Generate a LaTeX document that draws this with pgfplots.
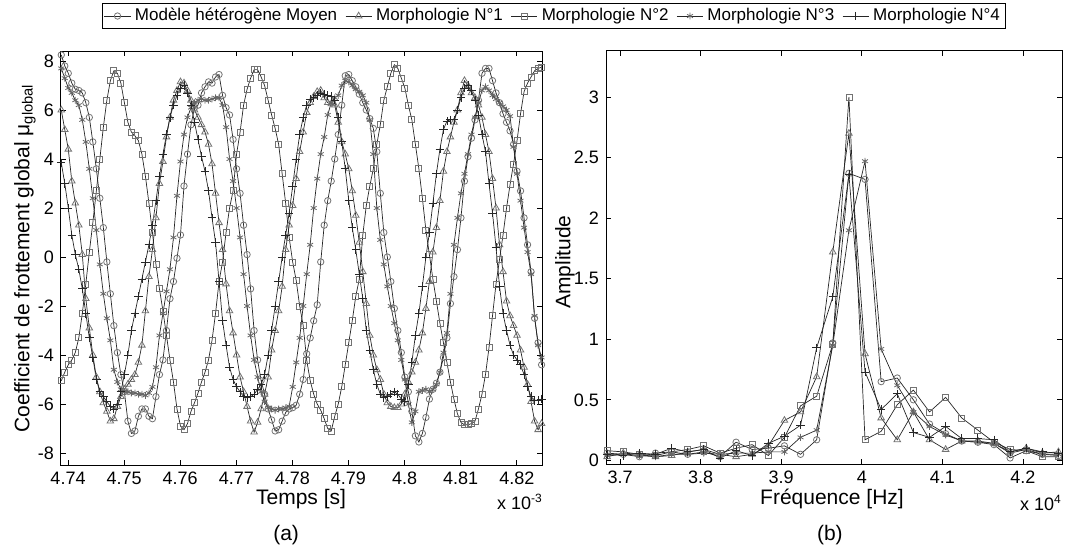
\documentclass[border=0pt]{standalone}
\usepackage{fontspec}
\setmainfont{Liberation Sans}
\usepackage{pgfplots}
\usepackage{pgfplotstable}
\pgfplotsset{compat=1.18}

% signal temporel (temps en 1e-3 s)
\pgfplotstableread{
t moy n1 n2 n3 n4
4.738800 8.25 6.0 -5.05 7.7 3.85
4.739425 7.8 5.2 -4.7 7.3 3.0
4.740050 7.5 4.4 -4.4 6.9 2.0
4.740675 7.1 3.1 -4.2 6.7 0.9
4.741300 6.85 2.2 -3.9 6.4 0.1
4.741925 6.8 1.3 -3.3 6.2 -0.5
4.742550 6.7 0.1 -2.3 5.6 -1.3
4.743175 6.3 -1.7 -1.1 4.7 -2.3
4.743800 5.7 -2.9 0.2 3.6 -3.3
4.744425 4.7 -4.0 1.4 2.4 -4.1
4.745050 3.6 -4.9 2.7 1.1 -5.0
4.745675 2.4 -5.5 4.0 -0.3 -5.5
4.746300 1.2 -5.95 5.3 -1.5 -5.7
4.746925 -0.2 -6.3 6.4 -2.5 -5.9
4.747550 -1.5 -6.7 7.2 -3.4 -6.1
4.748175 -2.8 -6.6 7.6 -4.6 -6.2
4.748800 -3.9 -6.1 7.5 -5.1 -6.0
4.749425 -4.8 -5.7 7.1 -5.4 -5.5
4.750050 -5.5 -5.4 6.3 -5.5 -4.8
4.750675 -6.7 -5.2 5.5 -5.5 -4.0
4.751300 -7.2 -5.0 5.1 -5.55 -3.0
4.751925 -7.1 -4.8 4.95 -5.55 -2.3
4.752550 -6.5 -4.3 4.75 -5.6 -1.6
4.753175 -6.2 -3.6 4.2 -5.6 -0.9
4.753800 -6.2 -2.2 3.3 -5.65 -0.2
4.754425 -6.5 -0.8 2.2 -5.55 0.5
4.755050 -6.6 0.3 1.0 -5.3 1.3
4.755675 -5.7 1.6 -0.3 -4.5 2.3
4.756300 -4.8 3.0 -1.3 -3.2 3.3
4.756925 -4.2 3.9 -2.2 -2.3 4.2
4.757550 -3.0 4.9 -3.2 -1.4 5.0
4.758175 -1.7 5.7 -4.2 -0.5 5.7
4.758800 -1.0 6.4 -5.1 0.8 6.2
4.759425 -0.05 6.8 -6.2 2.5 6.6
4.760050 0.9 7.15 -6.9 3.9 6.9
4.760675 2.9 7.1 -7.05 5.0 7.0
4.761300 4.2 6.8 -6.8 5.7 6.7
4.761925 5.4 6.4 -6.3 6.1 6.2
4.762550 6.1 6.0 -5.95 6.3 5.5
4.763175 6.2 5.7 -5.55 6.4 4.8
4.763800 6.7 5.4 -5.1 6.45 4.1
4.764425 6.95 5.1 -4.7 6.4 3.5
4.765050 7.15 4.6 -4.2 6.4 2.7
4.765675 7.1 3.8 -3.4 6.45 1.6
4.766300 7.35 2.6 -2.3 6.5 0.6
4.766925 7.45 1.4 -1.0 6.5 -1.0
4.767550 6.6 0.3 -0.2 6.2 -2.6
4.768175 6.1 -1.1 1.0 5.3 -3.6
4.768800 5.8 -2.2 2.0 4.0 -4.5
4.769425 4.8 -3.1 2.7 3.1 -5.0
4.770050 3.6 -4.0 4.2 2.0 -5.3
4.770675 2.6 -4.9 5.1 0.8 -5.5
4.771300 1.3 -5.5 6.2 -0.7 -5.7
4.771925 0.1 -6.1 6.85 -2.0 -5.75
4.772550 -1.3 -6.7 7.3 -3.2 -5.7
4.773175 -3.0 -7.15 7.65 -4.2 -5.6
4.773800 -4.2 -6.75 7.65 -4.9 -5.4
4.774425 -5.05 -6.2 7.35 -5.5 -5.2
4.775050 -5.6 -5.6 7.0 -5.9 -4.8
4.775675 -6.2 -4.9 6.4 -6.15 -4.0
4.776300 -6.65 -3.8 5.8 -6.2 -3.0
4.776925 -7.1 -3.0 5.25 -6.25 -2.0
4.777550 -7.05 -2.2 4.6 -6.2 -1.0
4.778175 -6.7 -1.2 3.4 -6.2 0.0
4.778800 -6.35 0.3 2.2 -6.15 0.9
4.779425 -6.2 1.3 0.8 -6.1 1.8
4.780050 -6.15 2.1 -0.2 -5.3 2.9
4.780675 -6.05 3.2 -0.95 -4.3 4.0
4.781300 -5.6 4.3 -2.0 -3.3 5.0
4.781925 -5.0 5.1 -2.8 -2.0 5.7
4.782550 -3.95 5.9 -4.2 -0.7 6.2
4.783175 -3.3 6.3 -5.05 0.5 6.45
4.783800 -2.6 6.55 -5.6 2.0 6.5
4.784425 -1.95 6.75 -6.0 3.2 6.6
4.785050 -0.2 6.8 -6.25 4.2 6.7
4.785675 1.3 6.5 -6.6 4.9 6.65
4.786300 2.3 6.3 -7.0 5.8 6.6
4.786925 3.1 6.25 -7.1 6.3 6.55
4.787550 4.0 6.2 -6.5 6.5 6.4
4.788175 5.0 5.5 -6.0 6.6 5.7
4.788800 6.2 4.7 -5.3 7.0 4.7
4.789425 7.4 4.2 -4.4 7.2 3.6
4.790050 7.45 3.6 -3.5 7.15 2.3
4.790675 7.2 2.7 -2.6 7.0 1.2
4.791300 6.95 1.7 -1.6 6.85 0.3
4.791925 6.65 0.6 -0.9 6.75 -0.7
4.792550 6.3 -0.6 0.9 6.6 -1.7
4.793175 6.0 -1.9 2.1 6.3 -3.0
4.793800 5.65 -3.2 2.9 5.6 -3.8
4.794425 5.25 -4.0 3.6 4.2 -4.6
4.795050 4.3 -4.6 4.6 2.0 -5.2
4.795675 2.6 -5.0 5.4 0.7 -5.6
4.796300 1.0 -5.6 6.4 -0.3 -5.75
4.796925 0.0 -5.95 6.95 -1.2 -5.7
4.797550 -1.0 -6.1 7.5 -2.0 -5.6
4.798175 -2.1 -6.15 7.85 -2.7 -5.5
4.798800 -3.0 -6.15 7.7 -3.4 -5.6
4.799425 -3.9 -6.0 7.3 -4.2 -5.8
4.800050 -4.9 -5.6 6.9 -5.0 -5.9
4.800675 -5.5 -5.1 6.2 -6.0 -5.2
4.801300 -6.3 -4.7 5.6 -6.75 -4.3
4.801925 -7.3 -4.3 4.6 -6.3 -3.2
4.802550 -7.55 -3.8 3.6 -5.5 -2.3
4.803175 -7.2 -3.1 2.4 -5.45 -1.2
4.803800 -6.55 -2.1 1.1 -5.4 0.0
4.804425 -5.8 -1.0 0.1 -5.5 1.0
4.805050 -5.4 0.2 -0.9 -5.4 2.2
4.805675 -5.15 1.2 -1.8 -5.2 3.4
4.806300 -4.7 2.3 -2.7 -4.7 4.4
4.806925 -4.1 3.5 -3.5 -3.9 5.2
4.807550 -3.3 4.3 -4.3 -3.1 5.55
4.808175 -1.9 4.9 -5.1 -1.5 5.6
4.808800 -0.8 5.5 -5.8 0.5 5.6
4.809425 0.3 6.0 -6.4 1.6 6.0
4.810050 1.6 6.7 -6.75 2.6 6.5
4.810675 3.1 7.2 -6.85 3.4 6.9
4.811300 4.1 7.0 -6.85 4.2 7.0
4.811925 4.85 6.7 -6.8 5.0 6.8
4.812550 5.6 6.5 -6.7 5.7 6.4
4.813175 6.4 6.2 -6.2 6.3 5.8
4.813800 7.5 5.7 -5.6 6.8 5.0
4.814425 7.7 5.0 -4.8 6.95 4.3
4.815050 7.7 4.3 -3.7 6.8 3.0
4.815675 7.2 3.2 -2.4 6.6 1.8
4.816300 6.7 2.0 -1.1 6.45 0.4
4.816925 6.3 0.5 -0.1 6.3 -1.2
4.817550 5.85 -0.6 0.9 6.15 -2.3
4.818175 5.5 -1.8 2.0 6.0 -3.0
4.818800 5.15 -2.4 2.95 5.75 -3.6
4.819425 4.6 -2.8 3.8 4.5 -4.0
4.820050 3.5 -3.2 4.75 3.4 -4.2
4.820675 2.7 -3.8 5.85 2.3 -4.4
4.821300 1.6 -4.5 6.75 1.2 -4.8
4.821925 0.5 -5.2 7.1 0.2 -5.3
4.822550 -0.6 -5.9 7.35 -0.7 -5.7
4.823175 -2.5 -6.7 7.6 -2.4 -5.85
4.823800 -3.5 -7.05 7.7 -3.6 -5.85
4.824425 -4.4 -6.8 7.75 -4.1 -5.8
}\tempsdata

% spectre (frequence en 1e4 Hz)
\pgfplotstableread{
f moy n1 n2 n3 n4
3.684 0.06 0.03 0.08 0.04 0.05
3.704 0.05 0.06 0.07 0.05 0.04
3.724 0.03 0.05 0.05 0.04 0.06
3.744 0.06 0.03 0.04 0.03 0.05
3.764 0.07 0.04 0.07 0.05 0.10
3.784 0.05 0.07 0.09 0.05 0.07
3.804 0.07 0.09 0.12 0.06 0.09
3.824 0.03 0.05 0.06 0.05 0.02
3.844 0.15 0.03 0.10 0.06 0.08
3.864 0.09 0.05 0.13 0.06 0.04
3.884 0.10 0.12 0.04 0.07 0.14
3.904 0.12 0.33 0.19 0.07 0.20
3.924 0.05 0.40 0.45 0.19 0.29
3.944 0.17 0.69 0.53 0.25 0.93
3.964 0.97 1.72 0.96 0.95 1.35
3.984 2.37 2.70 3.00 1.90 2.36
4.004 2.32 0.88 0.17 2.47 0.73
4.024 0.65 0.35 0.24 0.92 0.42
4.044 0.68 0.17 0.46 0.62 0.55
4.064 0.50 0.40 0.58 0.40 0.23
4.084 0.30 0.17 0.40 0.28 0.19
4.104 0.22 0.09 0.52 0.21 0.28
4.124 0.16 0.16 0.35 0.16 0.18
4.144 0.15 0.16 0.25 0.15 0.18
4.164 0.13 0.14 0.15 0.14 0.17
4.184 0.02 0.07 0.09 0.06 0.07
4.204 0.08 0.10 0.08 0.09 0.10
4.224 0.05 0.06 0.03 0.05 0.07
4.244 0.04 0.07 0.03 0.05 0.06
}\freqdata

\pgfplotsset{
  every axis/.append style={
    scale only axis,
    axis line style={line width=0.5pt},
    tick style={black, line width=0.4pt},
    major tick length=2.5pt,
    tick align=inside,
    xtick pos=both, ytick pos=both,
    scaled ticks=false,
    ticklabel style={font=\fontsize{9}{10}\selectfont},
    label style={font=\fontsize{10.5}{12}\selectfont},
    /pgf/number format/assume math mode=true,
  },
  scircle/.style={color=black!85, line width=0.35pt, mark=o, mark size=1.6pt,
    mark options={draw=black!55, line width=0.4pt, solid}},
  stri/.style={color=black!85, line width=0.35pt, mark=triangle, mark size=1.9pt,
    mark options={draw=black!55, line width=0.4pt, solid}},
  ssq/.style={color=black!85, line width=0.35pt, mark=square, mark size=1.5pt,
    mark options={draw=black!55, line width=0.4pt, solid}},
  sstar/.style={color=black!85, line width=0.35pt, mark=asterisk, mark size=1.7pt,
    mark options={draw=black!60, line width=0.4pt, solid}},
  splus/.style={color=black!85, line width=0.35pt, mark=+, mark size=2.1pt,
    mark options={draw=black!85, line width=0.4pt, solid}},
}

\begin{document}
\begin{tikzpicture}
\path[use as bounding box] (0,0) rectangle (533.5pt,276.5pt);

% (a) coefficient de frottement
\begin{axis}[
  at={(30.5pt,44pt)}, anchor=south west,
  width=240.5pt, height=207pt,
  xmin=4.73875, xmax=4.8245, ymin=-8.49, ymax=8.41,
  xtick={4.74,4.75,4.76,4.77,4.78,4.79,4.8,4.81,4.82},
  ytick={-8,-6,-4,-2,0,2,4,6,8},
  xlabel={Temps [s]},
  xlabel style={at={(axis description cs:0.499,-0.082)}, anchor=center},
  ylabel={Coefficient de frottement global μ\textsubscript{global}},
  ylabel style={at={(axis description cs:-0.075,0.5)}, anchor=center, rotate=0},
  legend columns=5,
  legend cell align=left,
  legend image code/.code={\draw[mark repeat=2,mark phase=2] plot coordinates {(0cm,0cm) (0.23cm,0cm) (0.46cm,0cm)};},
  legend style={at={(1.025,1.0845)}, anchor=center, draw=black, line width=0.5pt,
    font=\fontsize{8.5}{10}\selectfont, inner xsep=1pt, inner ysep=0.5pt,
    /tikz/every even column/.append style={column sep=2pt}},
  extra description/.code={
    \node[font=\fontsize{9}{10}\selectfont] at (0.954,-0.089) {x 10\textsuperscript{-3}};
    \node[font=\fontsize{10.5}{12}\selectfont] at (0.468,-0.169) {(a)};
  },
]
\addplot[scircle] table[x=t,y=moy] {\tempsdata};
\addplot[stri] table[x=t,y=n1] {\tempsdata};
\addplot[ssq] table[x=t,y=n2] {\tempsdata};
\addplot[sstar] table[x=t,y=n3] {\tempsdata};
\addplot[splus] table[x=t,y=n4] {\tempsdata};
\legend{Modèle hétérogène Moyen, Morphologie N°1, Morphologie N°2, Morphologie N°3, Morphologie N°4}
\end{axis}

% (b) spectre
\begin{axis}[
  at={(303pt,44.5pt)}, anchor=south west,
  width=228pt, height=206.5pt,
  xmin=3.6826, xmax=4.2484, ymin=-0.03, ymax=3.38,
  xtick={3.7,3.8,3.9,4,4.1,4.2},
  ytick={0,0.5,1,1.5,2,2.5,3},
  xlabel={Fréquence [Hz]},
  xlabel style={at={(axis description cs:0.4956,-0.0847)}, anchor=center},
  ylabel={Amplitude},
  ylabel style={at={(axis description cs:-0.09,0.489)}, anchor=center},
  extra description/.code={
    \node[font=\fontsize{9}{10}\selectfont] at (0.954,-0.094) {x 10\textsuperscript{4}};
    \node[font=\fontsize{10.5}{12}\selectfont] at (0.491,-0.172) {(b)};
  },
]
\addplot[scircle] table[x=f,y=moy] {\freqdata};
\addplot[stri] table[x=f,y=n1] {\freqdata};
\addplot[ssq] table[x=f,y=n2] {\freqdata};
\addplot[sstar] table[x=f,y=n3] {\freqdata};
\addplot[splus] table[x=f,y=n4] {\freqdata};
\end{axis}
\end{tikzpicture}
\end{document}
